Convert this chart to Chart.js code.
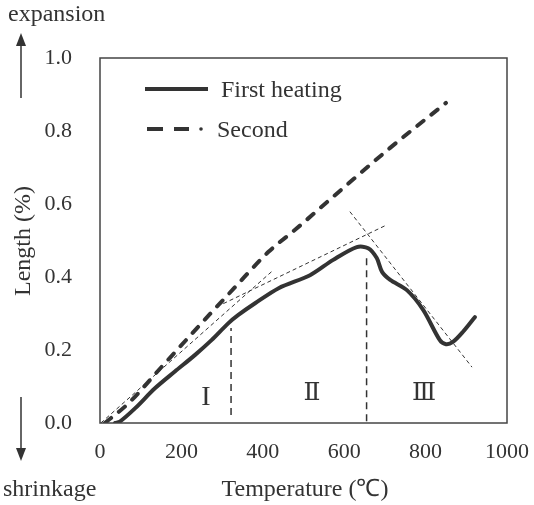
<!DOCTYPE html>
<html>
<head>
<meta charset="utf-8">
<script src="https://cdn.jsdelivr.net/npm/chart.js@4.4.1/dist/chart.umd.min.js"></script>
<style>
  html, body { margin: 0; padding: 0; background: #fff; }
  canvas { display: block; }
</style>
</head>
<body>
<canvas id="chart" width="534" height="505"></canvas>
<script>
// Dilatometer curve: first heating
const firstTemp   = [37, 49, 86, 135, 184, 233, 274, 315, 340, 381, 440, 516, 573, 631, 659, 680, 693, 713, 754, 794, 835, 850, 867, 892, 921];
const firstLength = [0.0, 0.004, 0.04, 0.095, 0.141, 0.186, 0.227, 0.273, 0.296, 0.328, 0.37, 0.405, 0.447, 0.482, 0.479, 0.452, 0.414, 0.392, 0.364, 0.31, 0.227, 0.216, 0.222, 0.25, 0.29];

// Second heating
const secondTemp   = [12, 70, 150, 240, 330, 414, 480, 573, 712, 850];
const secondLength = [0.0, 0.054, 0.152, 0.262, 0.370, 0.469, 0.530, 0.620, 0.753, 0.877];

// Tangent guide lines for the three stages
const tangent1Temp = [2, 422],   tangent1Length = [0.0, 0.415];
const tangent2Temp = [303, 705], tangent2Length = [0.327, 0.543];
const tangent3Temp = [614, 914], tangent3Length = [0.579, 0.153];

// Stage boundaries
const boundary1Temp = [322, 322], boundary1Length = [0.022, 0.26];
const boundary2Temp = [655, 655], boundary2Length = [0.005, 0.455];

// Stage labels
const stageNames  = ['I', 'Ⅱ', 'Ⅲ'];
const stageTemp   = [260, 521, 796];
const stageLength = [0.07, 0.082, 0.082];

const xTicks = [0, 200, 400, 600, 800, 1000];
const yTicks = [0.0, 0.2, 0.4, 0.6, 0.8, 1.0];

const SERIF = "'Liberation Serif', 'Times New Roman', serif";
const INK = '#333333';

const pts = (xs, ys) => xs.map((x, i) => ({ x: x, y: ys[i] }));

function guide(xs, ys, width, dash) {
  return {
    data: pts(xs, ys),
    borderColor: INK,
    borderWidth: width,
    borderDash: dash,
    pointRadius: 0,
    tension: 0,
    fill: false
  };
}

const extras = {
  id: 'extras',
  afterDraw(chart) {
    const ctx = chart.ctx;
    const a = chart.chartArea;
    const xs = chart.scales.x, ys = chart.scales.y;
    ctx.save();

    // frame around the plot area
    ctx.strokeStyle = '#444';
    ctx.lineWidth = 1.5;
    ctx.strokeRect(a.left, a.top, a.right - a.left, a.bottom - a.top);

    ctx.fillStyle = INK;
    ctx.strokeStyle = INK;

    // stage labels
    ctx.textAlign = 'center';
    ctx.textBaseline = 'middle';
    stageNames.forEach((s, i) => {
      ctx.font = i === 0 ? '28px ' + SERIF : "25px 'DejaVu Serif', serif";
      ctx.fillText(s, xs.getPixelForValue(stageTemp[i]), ys.getPixelForValue(stageLength[i]));
    });

    // legend
    ctx.lineWidth = 4;
    ctx.setLineDash([]);
    ctx.beginPath(); ctx.moveTo(145, 89); ctx.lineTo(208, 89); ctx.stroke();
    ctx.beginPath(); ctx.moveTo(147, 129); ctx.lineTo(163, 129); ctx.stroke();
    ctx.beginPath(); ctx.moveTo(174, 129); ctx.lineTo(189, 129); ctx.stroke();
    ctx.beginPath(); ctx.arc(201, 129, 1.8, 0, Math.PI * 2); ctx.fill();
    ctx.font = '24px ' + SERIF;
    ctx.textAlign = 'left';
    ctx.fillText('First heating', 221, 91);
    ctx.fillText('Second', 217, 131);

    // axis titles
    ctx.font = '24px ' + SERIF;
    ctx.textAlign = 'center';
    ctx.fillText('Temperature (℃)', 305, 490);
    ctx.save();
    ctx.translate(24, 241);
    ctx.rotate(-Math.PI / 2);
    ctx.fillText('Length (%)', 0, 0);
    ctx.restore();

    // direction hints
    ctx.font = '24px ' + SERIF;
    ctx.textAlign = 'left';
    ctx.fillText('expansion', 8, 15);
    ctx.fillText('shrinkage', 3, 490);

    ctx.lineWidth = 1.5;
    ctx.beginPath(); ctx.moveTo(21, 98); ctx.lineTo(21, 42); ctx.stroke();
    ctx.beginPath(); ctx.moveTo(21, 33); ctx.lineTo(16, 46); ctx.lineTo(26, 46); ctx.closePath(); ctx.fill();
    ctx.beginPath(); ctx.moveTo(21, 397); ctx.lineTo(21, 452); ctx.stroke();
    ctx.beginPath(); ctx.moveTo(21, 461); ctx.lineTo(16, 448); ctx.lineTo(26, 448); ctx.closePath(); ctx.fill();

    ctx.restore();
  }
};

new Chart(document.getElementById('chart'), {
  type: 'line',
  data: {
    datasets: [
      guide(tangent1Temp, tangent1Length, 1, [4, 3]),
      guide(tangent2Temp, tangent2Length, 1, [4, 3]),
      guide(tangent3Temp, tangent3Length, 1, [4, 3]),
      guide(boundary1Temp, boundary1Length, 1.5, [7, 5]),
      guide(boundary2Temp, boundary2Length, 1.5, [7, 5]),
      {
        label: 'Second',
        data: pts(secondTemp, secondLength),
        borderColor: INK,
        borderWidth: 4,
        borderDash: [8, 10],
        borderCapStyle: 'round',
        pointRadius: 0,
        cubicInterpolationMode: 'monotone',
        fill: false
      },
      {
        label: 'First heating',
        data: pts(firstTemp, firstLength),
        borderColor: INK,
        borderWidth: 4,
        pointRadius: 0,
        tension: 0.3,
        borderCapStyle: 'round',
        borderJoinStyle: 'round',
        fill: false
      }
    ]
  },
  options: {
    responsive: false,
    animation: false,
    layout: { padding: { left: 0, top: 58, right: 27, bottom: 0 } },
    plugins: { legend: { display: false }, tooltip: { enabled: false } },
    scales: {
      x: {
        type: 'linear',
        min: 0, max: 1000,
        afterFit(s) { s.height = 82; s.paddingLeft = 0; s.paddingRight = 0; },
        afterBuildTicks(s) { s.ticks = xTicks.map(v => ({ value: v })); },
        grid: { display: false, drawTicks: false },
        border: { display: false },
        ticks: { color: INK, font: { family: SERIF, size: 22 }, padding: 16, maxRotation: 0, callback: v => String(v) }
      },
      y: {
        type: 'linear',
        min: 0, max: 1,
        afterFit(s) { s.width = 100; s.paddingTop = 0; s.paddingBottom = 0; },
        afterBuildTicks(s) { s.ticks = yTicks.map(v => ({ value: v })); },
        grid: { display: false, drawTicks: false },
        border: { display: false },
        ticks: { color: INK, font: { family: SERIF, size: 22 }, padding: 28, callback: v => v.toFixed(1) }
      }
    }
  },
  plugins: [extras]
});
</script>
</body>
</html>
